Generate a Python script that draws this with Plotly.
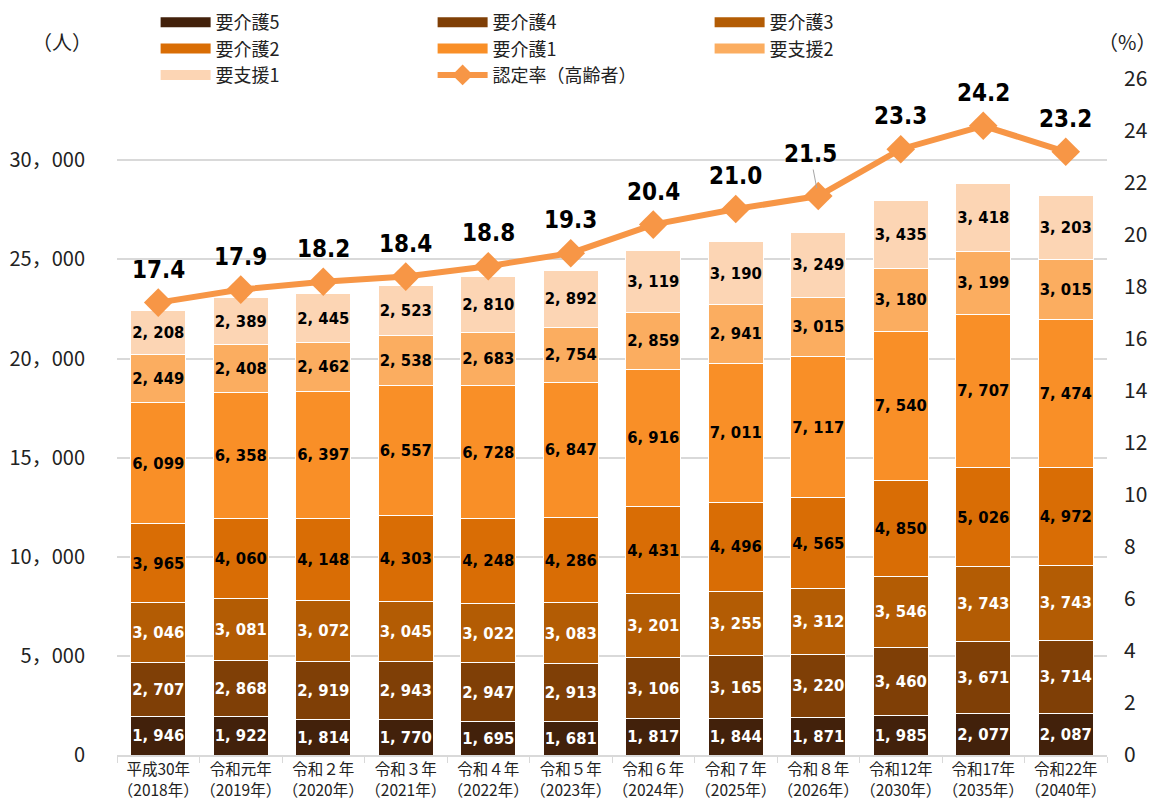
import plotly.graph_objects as go

years = ["平成30年<br>（2018年）", "令和元年<br>（2019年）", "令和２年<br>（2020年）", "令和３年<br>（2021年）",
         "令和４年<br>（2022年）", "令和５年<br>（2023年）", "令和６年<br>（2024年）", "令和７年<br>（2025年）",
         "令和８年<br>（2026年）", "令和12年<br>（2030年）", "令和17年<br>（2035年）", "令和22年<br>（2040年）"]

kaigo5 = [1946, 1922, 1814, 1770, 1695, 1681, 1817, 1844, 1871, 1985, 2077, 2087]
kaigo4 = [2707, 2868, 2919, 2943, 2947, 2913, 3106, 3165, 3220, 3460, 3671, 3714]
kaigo3 = [3046, 3081, 3072, 3045, 3022, 3083, 3201, 3255, 3312, 3546, 3743, 3743]
kaigo2 = [3965, 4060, 4148, 4303, 4248, 4286, 4431, 4496, 4565, 4850, 5026, 4972]
kaigo1 = [6099, 6358, 6397, 6557, 6728, 6847, 6916, 7011, 7117, 7540, 7707, 7474]
shien2 = [2449, 2408, 2462, 2538, 2683, 2754, 2859, 2941, 3015, 3180, 3199, 3015]
shien1 = [2208, 2389, 2445, 2523, 2810, 2892, 3119, 3190, 3249, 3435, 3418, 3203]
rate = [17.4, 17.9, 18.2, 18.4, 18.8, 19.3, 20.4, 21.0, 21.5, 23.3, 24.2, 23.2]

series_names = ["要介護5", "要介護4", "要介護3", "要介護2", "要介護1", "要支援2", "要支援1"]
series_values = [kaigo5, kaigo4, kaigo3, kaigo2, kaigo1, shien2, shien1]
series_colors = ["#42210b", "#7f3f06", "#b35c04", "#d96d05", "#f98f27", "#fbad60", "#fcd5b4"]
label_colors = ["white", "white", "white", "black", "black", "black", "black"]
rate_name = "認定率（高齢者）"
rate_color = "#f79646"

num_font = "DejaVu Sans Condensed, DejaVu Sans, sans-serif"
jp_font = "Noto Sans CJK JP, sans-serif"

fig = go.Figure()

for name, vals, col, lc in zip(series_names, series_values, series_colors, label_colors):
    fig.add_trace(go.Bar(
        x=years, y=vals, name=name, marker=dict(color=col, line=dict(color="white", width=1)),
        text=[f"{v:,}".replace(",", ", ") for v in vals], textposition="inside",
        insidetextanchor="middle", textangle=0, constraintext="none",
        textfont=dict(family=num_font, size=16.5, color=lc, weight="bold"),
        showlegend=False, cliponaxis=False,
    ))

# legend-only entries (thick line swatches)
for name, col in zip(series_names, series_colors):
    fig.add_trace(go.Scatter(x=[None], y=[None], mode="lines", name=name,
                             line=dict(color=col, width=10), showlegend=True))

fig.add_trace(go.Scatter(
    x=years, y=rate, name=rate_name, yaxis="y2", mode="lines+markers",
    line=dict(color=rate_color, width=6),
    marker=dict(symbol="diamond", size=22, color=rate_color),
    showlegend=True,
))

for i, (xv, r) in enumerate(zip(years, rate)):
    if i == 8:
        fig.add_annotation(x=xv, y=r, yref="y2", text=f"{r:.1f}", showarrow=True,
                           arrowhead=0, arrowwidth=1, arrowcolor="#a6a6a6",
                           ax=-8, ay=-42, standoff=8,
                           font=dict(family=num_font, size=24, color="black", weight="bold"))
    else:
        fig.add_annotation(x=xv, y=r, yref="y2", text=f"{r:.1f}", showarrow=False,
                           yshift=33,
                           font=dict(family=num_font, size=24, color="black", weight="bold"))

fig.add_annotation(xref="paper", yref="paper", x=-0.056, y=1.055, text="（人）", showarrow=False,
                   xanchor="center", yanchor="middle", font=dict(family=jp_font, size=20, color="#222"))
fig.add_annotation(xref="paper", yref="paper", x=1.052, y=1.055, text="（%）", showarrow=False,
                   xanchor="right", yanchor="middle", font=dict(family=jp_font, size=20, color="#222"))

fig.update_layout(
    width=1154, height=797,
    margin=dict(l=109, r=55, t=71, b=50, autoexpand=False),
    barmode="stack", bargap=0.33,
    plot_bgcolor="white", paper_bgcolor="white",
    separators=".，",
    font=dict(family=jp_font, color="#222"),
    legend=dict(orientation="h", x=0.039, y=1.111, xanchor="left", yanchor="top",
                traceorder="normal",
                entrywidth=212, entrywidthmode="pixels", itemwidth=50,
                font=dict(family=jp_font, size=18, color="#222"),
                tracegroupgap=0, bgcolor="rgba(0,0,0,0)"),
    xaxis=dict(range=[-0.5, len(years) - 0.5], showline=True, linecolor="#d9d9d9", linewidth=1.5,
               ticks="outside", tickson="boundaries", ticklen=6, tickcolor="#d9d9d9", tickangle=0,
               automargin=False,
               tickfont=dict(family=jp_font, size=15.5, color="#222")),
    yaxis=dict(range=[0, 34100], dtick=5000, tickformat=",d", showgrid=True,
               gridcolor="#d9d9d9", gridwidth=1.5, zeroline=False, automargin=False,
               tickfont=dict(family=jp_font, size=20, color="#222"), ticks="", ticklabelstandoff=31),
    yaxis2=dict(range=[0, 26], dtick=2, overlaying="y", side="right", showgrid=False,
                zeroline=False, automargin=False,
                tickfont=dict(family=jp_font, size=21, color="#222"), ticklabelstandoff=16),
)

fig.write_html("out.html")
